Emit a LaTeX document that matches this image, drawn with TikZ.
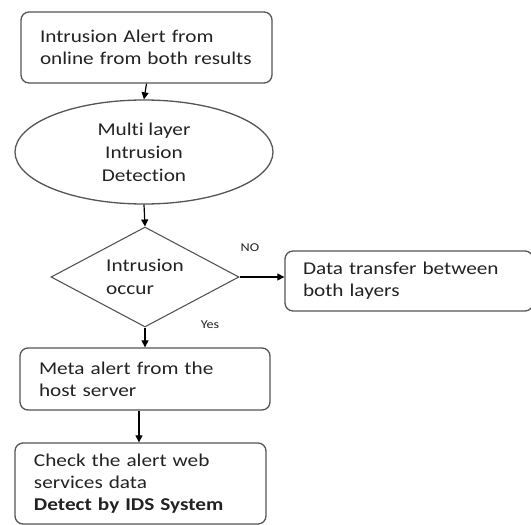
\documentclass[tikz,border=0pt]{standalone}
\usepackage{fontspec}
\setmainfont{Carlito}[FakeStretch=1.18,Ligatures=NoCommon]
\usetikzlibrary{shapes.geometric,arrows.meta}
\definecolor{lc}{HTML}{555555}
\definecolor{tc}{HTML}{222222}
\tikzset{
  x=1pt,y=-1pt,
  box/.style={draw=lc,line width=1.3pt,rounded corners=8pt,inner ysep=0pt,align=left,
    font=\fontsize{18}{22}\selectfont,text=tc},
  ell/.style={draw=lc,line width=1.3pt,ellipse,inner sep=0pt,align=center,
    minimum width=258pt,minimum height=104pt,font=\fontsize{18}{23}\selectfont,text=tc},
  dia/.style={draw=lc,line width=1.1pt,diamond,inner sep=0pt,align=left,aspect=1.88,
    minimum width=188pt,minimum height=100pt,font=\fontsize{18}{23}\selectfont,text=tc},
  lbl/.style={font=\fontsize{12}{14}\selectfont,text=tc,inner sep=0pt},
  arr/.style={draw=black,line width=1.2pt,-{Triangle[length=7pt,width=7pt]}}
}
\begin{document}
\begin{tikzpicture}
\useasboundingbox (0,0) rectangle (531,525);
\node[box,minimum width=251pt,minimum height=71pt,inner xsep=19pt,text width=213pt] (b1) at (146.5,47.5)
  {Intrusion Alert from\\online from both results};
\node[ell] (e1) at (144,152) {Multi layer\\Intrusion\\Detection};
\node[dia] (d1) at (145,277) {Intrusion\\occur};
\node[box,minimum width=248pt,minimum height=60pt,inner xsep=18pt,text width=212pt] (b2) at (409,281)
  {Data transfer between\\both layers};
\node[box,minimum width=250pt,minimum height=62pt,inner xsep=19pt,text width=212pt] (b3) at (145,379)
  {Meta alert from the\\host server};
\node[box,minimum width=251pt,minimum height=81pt,inner xsep=19pt,text width=213pt] (b4) at (140.5,483.5)
  {Check the alert web\\services data\\\textbf{Detect by IDS System}};
\node[lbl] (no) at (250,248) {NO};
\node[lbl] (yes) at (210,325) {Yes};
\draw[arr] (b1.south) -- (e1.north);
\draw[arr] (e1.south) -- (d1.north);
\draw[arr] (d1.east) -- (d1.east -| b2.west);
\draw[arr] (d1.south) -- (d1.south |- b3.north);
\draw[arr] (b3.south -| 139,0) -- (b4.north -| 139,0);
\end{tikzpicture}
\end{document}
